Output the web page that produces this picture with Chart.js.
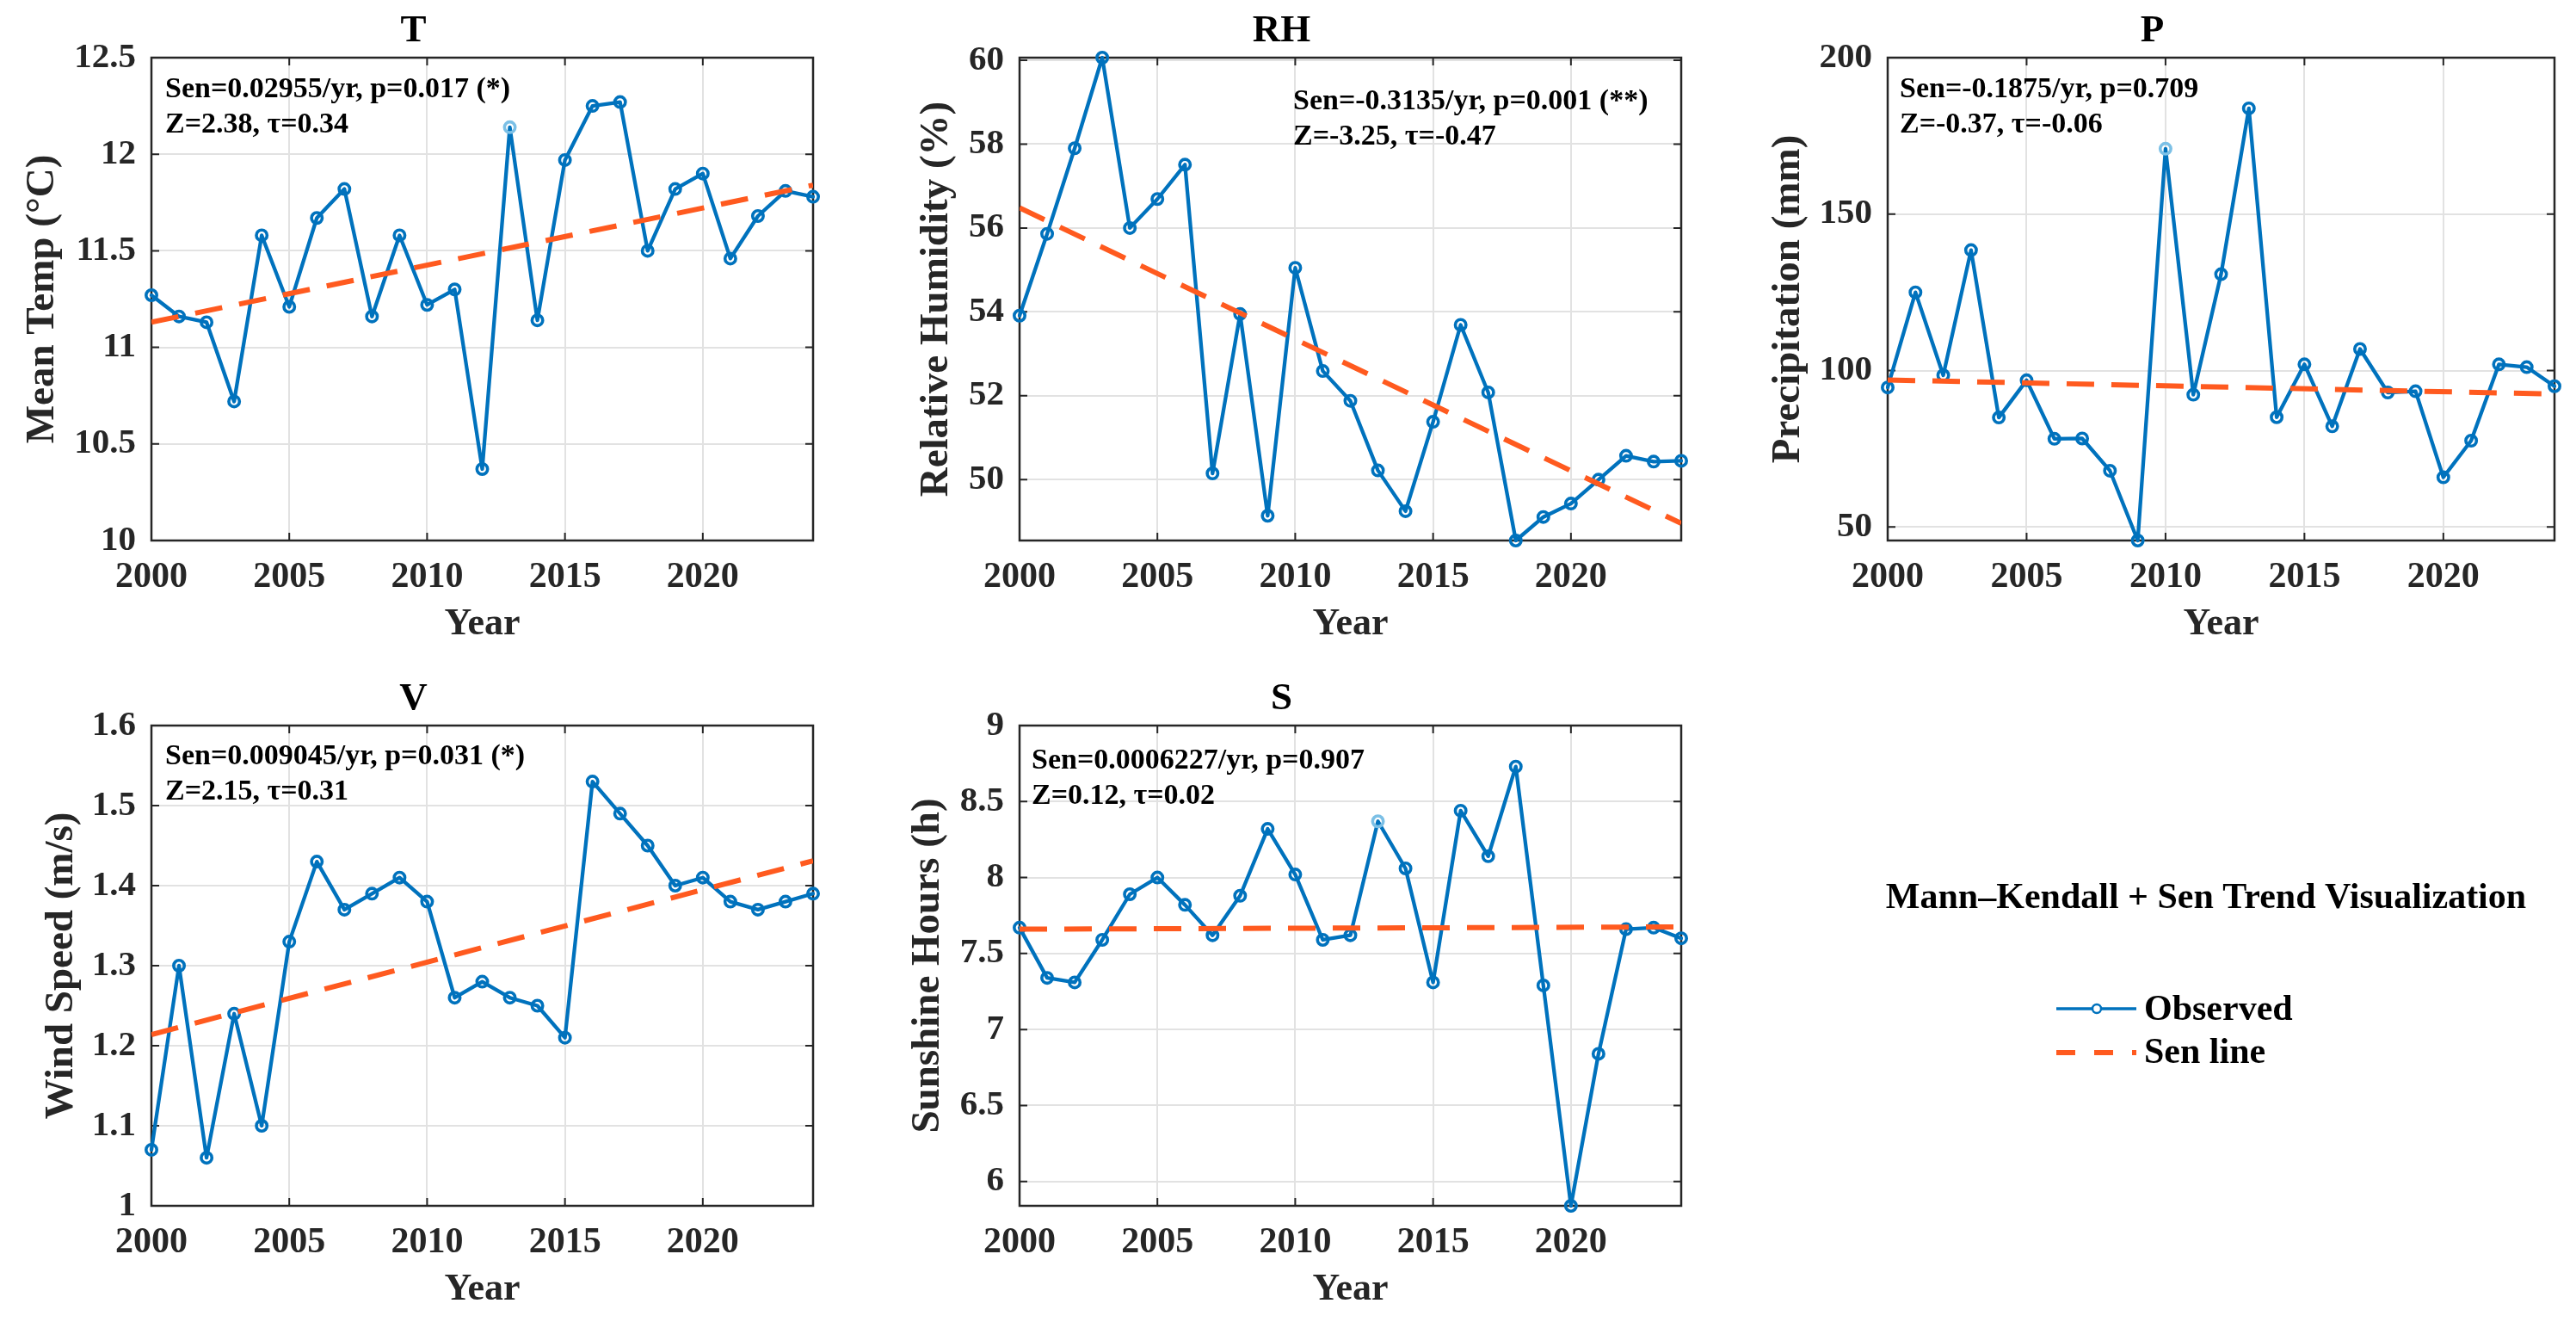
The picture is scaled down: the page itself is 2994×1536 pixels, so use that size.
<!DOCTYPE html>
<html>
<head>
<meta charset="utf-8">
<title>Mann-Kendall + Sen Trend Visualization</title>
<script src="https://cdn.jsdelivr.net/npm/chart.js@4.4.1/dist/chart.umd.min.js"></script>
<style>
  html, body { margin: 0; padding: 0; background: #fff; }
  body { width: 2994px; height: 1536px; position: relative; overflow: hidden; }
  canvas { position: absolute; }
</style>
</head>
<body>
<canvas id="c-T"></canvas>
<canvas id="c-RH"></canvas>
<canvas id="c-P"></canvas>
<canvas id="c-V"></canvas>
<canvas id="c-S"></canvas>
<canvas id="c-legend"></canvas>
<script>
// ---- data ----
const years = [2000, 2001, 2002, 2003, 2004, 2005, 2006, 2007, 2008, 2009, 2010, 2011, 2012,
               2013, 2014, 2015, 2016, 2017, 2018, 2019, 2020, 2021, 2022, 2023, 2024];
const senYears = [2000, 2024];
const yearTicks = [2000, 2005, 2010, 2015, 2020];

const tempObs = [11.27, 11.16, 11.13, 10.72, 11.58, 11.21, 11.67, 11.82, 11.16, 11.58, 11.22, 11.30, 10.37,
                 12.14, 11.14, 11.97, 12.25, 12.27, 11.50, 11.82, 11.90, 11.46, 11.68, 11.81, 11.78];
const tempSen = [11.13, 11.84];
const tempTicks = [10, 10.5, 11, 11.5, 12, 12.5];
const tempStats = ['Sen=0.02955/yr, p=0.017 (*)', 'Z=2.38, \u03c4=0.34'];

const rhObs = [53.91, 55.86, 57.90, 60.06, 56.00, 56.69, 57.51, 50.15, 53.95, 49.14, 55.05, 52.59, 51.88,
               50.22, 49.25, 51.38, 53.69, 52.08, 48.55, 49.11, 49.43, 50.00, 50.57, 50.43, 50.45];
const rhSen = [56.48, 48.96];
const rhTicks = [50, 52, 54, 56, 58, 60];
const rhStats = ['Sen=-0.3135/yr, p=0.001 (**)', 'Z=-3.25, \u03c4=-0.47'];

const precObs = [94.6, 125.0, 98.5, 138.5, 85.0, 96.9, 78.2, 78.3, 68.0, 45.7, 170.9, 92.3, 130.8,
                 183.8, 85.1, 102.0, 82.2, 106.9, 93.0, 93.4, 65.9, 77.6, 102.0, 101.1, 95.0];
const precSen = [97.0, 92.5];
const precTicks = [50, 100, 150, 200];
const precStats = ['Sen=-0.1875/yr, p=0.709', 'Z=-0.37, \u03c4=-0.06'];

const windObs = [1.07, 1.30, 1.06, 1.24, 1.10, 1.33, 1.43, 1.37, 1.39, 1.41, 1.38, 1.26, 1.28,
                 1.26, 1.25, 1.21, 1.53, 1.49, 1.45, 1.40, 1.41, 1.38, 1.37, 1.38, 1.39];
const windSen = [1.214, 1.431];
const windTicks = [1, 1.1, 1.2, 1.3, 1.4, 1.5, 1.6];
const windStats = ['Sen=0.009045/yr, p=0.031 (*)', 'Z=2.15, \u03c4=0.31'];

const sunObs = [7.67, 7.34, 7.31, 7.59, 7.89, 8.00, 7.82, 7.62, 7.88, 8.32, 8.02, 7.59, 7.62,
                8.37, 8.06, 7.31, 8.44, 8.14, 8.73, 7.29, 5.84, 6.84, 7.66, 7.67, 7.60];
const sunSen = [7.66, 7.675];
const sunTicks = [6, 6.5, 7, 7.5, 8, 8.5, 9];
const sunStats = ['Sen=0.0006227/yr, p=0.907', 'Z=0.12, \u03c4=0.02'];

// ---- styling ----
const FONT = "'Liberation Serif', 'Times New Roman', serif";
const OBS_COLOR = '#0072BD';
const OBS_LIGHT = '#7cc0e6';
const SEN_COLOR = '#FF5A1F';
const GRID_COLOR = '#e2e2e2';
const AXIS_COLOR = '#262626';

// plot box in page pixels: [left, top, right, bottom]
const panels = [
  { id: 'T',  title: 'T',  yTitle: 'Mean Temp (\u00b0C)', obs: tempObs, sen: tempSen, ticks: tempTicks,
    min: 10, max: 12.5, stats: tempStats, box: [176, 67, 945, 628], yGap: 126, statsAt: [16, 37], light: 13 },
  { id: 'RH', title: 'RH', yTitle: 'Relative Humidity (%)', obs: rhObs, sen: rhSen, ticks: rhTicks,
    min: 48.55, max: 60.06, stats: rhStats, box: [1185, 67, 1954, 628], yGap: 96, statsAt: [318, 51], light: -1 },
  { id: 'P',  title: 'P',  yTitle: 'Precipitation (mm)', obs: precObs, sen: precSen, ticks: precTicks,
    min: 45.7, max: 200, stats: precStats, box: [2194, 67, 2969, 628], yGap: 115, statsAt: [14, 37], light: 10 },
  { id: 'V',  title: 'V',  yTitle: 'Wind Speed (m/s)', obs: windObs, sen: windSen, ticks: windTicks,
    min: 1, max: 1.6, stats: windStats, box: [176, 843, 945, 1401], yGap: 104, statsAt: [16, 36], light: -1 },
  { id: 'S',  title: 'S',  yTitle: 'Sunshine Hours (h)', obs: sunObs, sen: sunSen, ticks: sunTicks,
    min: 5.84, max: 9, stats: sunStats, box: [1185, 843, 1954, 1401], yGap: 106, statsAt: [14, 41], light: 13 }
];

const Y_AXIS_W = 160;
const X_AXIS_H = 130;
const TOP_PAD = 70;
const RIGHT_PAD = 25;

// axis box + inward tick marks, MATLAB style
const framePlugin = {
  id: 'frame',
  beforeDatasetsDraw(chart) {
    const { ctx, chartArea: a, scales } = chart;
    ctx.save();
    ctx.strokeStyle = AXIS_COLOR;
    ctx.lineWidth = 2;
    const len = 9;
    scales.y.ticks.forEach(t => {
      const py = scales.y.getPixelForValue(t.value);
      ctx.beginPath();
      ctx.moveTo(a.left, py); ctx.lineTo(a.left + len, py);
      ctx.moveTo(a.right, py); ctx.lineTo(a.right - len, py);
      ctx.stroke();
    });
    scales.x.ticks.forEach(t => {
      const px = scales.x.getPixelForValue(t.value);
      ctx.beginPath();
      ctx.moveTo(px, a.bottom); ctx.lineTo(px, a.bottom - len);
      ctx.moveTo(px, a.top); ctx.lineTo(px, a.top + len);
      ctx.stroke();
    });
    ctx.lineWidth = 2.5;
    ctx.strokeRect(a.left, a.top, a.right - a.left, a.bottom - a.top);
    ctx.restore();
  }
};

// Sen / Mann-Kendall stats text in the corner of each axes
const statsPlugin = {
  id: 'stats',
  afterDraw(chart, args, opts) {
    const { ctx, chartArea: a } = chart;
    ctx.save();
    ctx.font = 'bold 34px ' + FONT;
    ctx.fillStyle = '#000';
    ctx.textBaseline = 'middle';
    ctx.textAlign = 'left';
    opts.lines.forEach((line, i) => {
      ctx.fillText(line, a.left + opts.at[0], a.top + opts.at[1] + i * 41);
    });
    ctx.restore();
  }
};

function makePanel(p) {
  const [L, T, R, B] = p.box;
  const canvas = document.getElementById('c-' + p.id);
  canvas.width = (R - L) + Y_AXIS_W + RIGHT_PAD;
  canvas.height = (B - T) + TOP_PAD + X_AXIS_H;
  canvas.style.left = (L - Y_AXIS_W) + 'px';
  canvas.style.top = (T - TOP_PAD) + 'px';

  const titleSize = 45, yTitleSize = 47;

  return new Chart(canvas, {
    type: 'line',
    data: {
      datasets: [
        {
          label: 'Sen line',
          data: senYears.map((x, i) => ({ x, y: p.sen[i] })),
          borderColor: SEN_COLOR,
          borderWidth: 6,
          borderDash: [32, 20],
          pointRadius: 0,
          order: 0
        },
        {
          label: 'Observed',
          data: years.map((x, i) => ({ x, y: p.obs[i] })),
          borderColor: OBS_COLOR,
          borderWidth: 4.3,
          borderJoinStyle: 'round',
          borderCapStyle: 'round',
          pointRadius: 6.2,
          pointBorderWidth: 3.6,
          pointBackgroundColor: 'rgba(0,0,0,0)',
          pointBorderColor: c => (c.dataIndex === p.light ? OBS_LIGHT : OBS_COLOR),
          clip: false,
          order: 1
        }
      ]
    },
    options: {
      responsive: false,
      animation: false,
      events: [],
      layout: { padding: { top: 0, right: RIGHT_PAD, left: 0, bottom: 0 } },
      scales: {
        x: {
          type: 'linear',
          min: 2000,
          max: 2024,
          afterBuildTicks: axis => { axis.ticks = yearTicks.map(v => ({ value: v })); },
          afterFit: s => { s.height = X_AXIS_H; },
          grid: { color: GRID_COLOR, lineWidth: 2, drawTicks: false },
          border: { display: false },
          ticks: {
            padding: 18,
            color: '#262626',
            font: { family: FONT, size: 42, weight: 'bold' },
            callback: v => String(v)
          },
          title: {
            display: true,
            text: 'Year',
            color: '#262626',
            padding: { top: 0, bottom: 10 },
            font: { family: FONT, size: 44, weight: 'bold', lineHeight: 1 }
          }
        },
        y: {
          type: 'linear',
          min: p.min,
          max: p.max,
          afterBuildTicks: axis => { axis.ticks = p.ticks.map(v => ({ value: v })); },
          afterFit: s => { s.width = Y_AXIS_W; },
          grid: { color: GRID_COLOR, lineWidth: 2, drawTicks: false },
          border: { display: false },
          ticks: {
            padding: 18,
            color: '#262626',
            font: { family: FONT, size: 41, weight: 'bold' },
            callback: v => String(v)
          },
          title: {
            display: true,
            text: p.yTitle,
            color: '#262626',
            padding: { top: Y_AXIS_W - p.yGap - yTitleSize / 2, bottom: 0 },
            font: { family: FONT, size: yTitleSize, weight: 'bold', lineHeight: 1 }
          }
        }
      },
      plugins: {
        legend: { display: false },
        tooltip: { enabled: false },
        title: {
          display: true,
          text: p.title,
          color: '#000',
          padding: { top: 17, bottom: TOP_PAD - 17 - titleSize },
          font: { family: FONT, size: titleSize, weight: 'bold', lineHeight: 1 }
        },
        stats: { lines: p.stats, at: p.statsAt }
      }
    },
    plugins: [framePlugin, statsPlugin]
  });
}

panels.forEach(makePanel);

// ---- figure-level title and legend in the empty sixth tile ----
const legendPlugin = {
  id: 'figLegend',
  afterDraw(chart) {
    const ctx = chart.ctx;
    const [obs, sen] = chart.data.datasets;
    ctx.save();
    ctx.fillStyle = '#000';
    ctx.textBaseline = 'middle';
    ctx.textAlign = 'center';
    ctx.font = 'bold 42px ' + FONT;
    ctx.fillText('Mann\u2013Kendall + Sen Trend Visualization', 464, 94);

    // Observed sample: line with a small hollow circle
    ctx.strokeStyle = obs.borderColor;
    ctx.lineWidth = 3.5;
    ctx.beginPath();
    ctx.moveTo(290, 222); ctx.lineTo(383, 222);
    ctx.stroke();
    ctx.fillStyle = '#fff';
    ctx.lineWidth = 2.5;
    ctx.beginPath();
    ctx.arc(337, 222, 5, 0, Math.PI * 2);
    ctx.fill();
    ctx.stroke();

    // Sen line sample: dashed
    ctx.strokeStyle = sen.borderColor;
    ctx.lineWidth = 6;
    ctx.setLineDash([22, 22]);
    ctx.beginPath();
    ctx.moveTo(290, 273); ctx.lineTo(383, 273);
    ctx.stroke();
    ctx.setLineDash([]);

    ctx.fillStyle = '#000';
    ctx.textAlign = 'left';
    ctx.font = 'bold 42px ' + FONT;
    ctx.fillText(obs.label, 392, 224);
    ctx.fillText(sen.label, 392, 274);
    ctx.restore();
  }
};

const legendCanvas = document.getElementById('c-legend');
legendCanvas.width = 894;
legendCanvas.height = 400;
legendCanvas.style.left = '2100px';
legendCanvas.style.top = '950px';

new Chart(legendCanvas, {
  type: 'line',
  data: {
    datasets: [
      { label: 'Observed', data: [], borderColor: OBS_COLOR },
      { label: 'Sen line', data: [], borderColor: SEN_COLOR }
    ]
  },
  options: {
    responsive: false,
    animation: false,
    events: [],
    scales: { x: { display: false }, y: { display: false } },
    plugins: { legend: { display: false }, tooltip: { enabled: false } }
  },
  plugins: [legendPlugin]
});
</script>
</body>
</html>
